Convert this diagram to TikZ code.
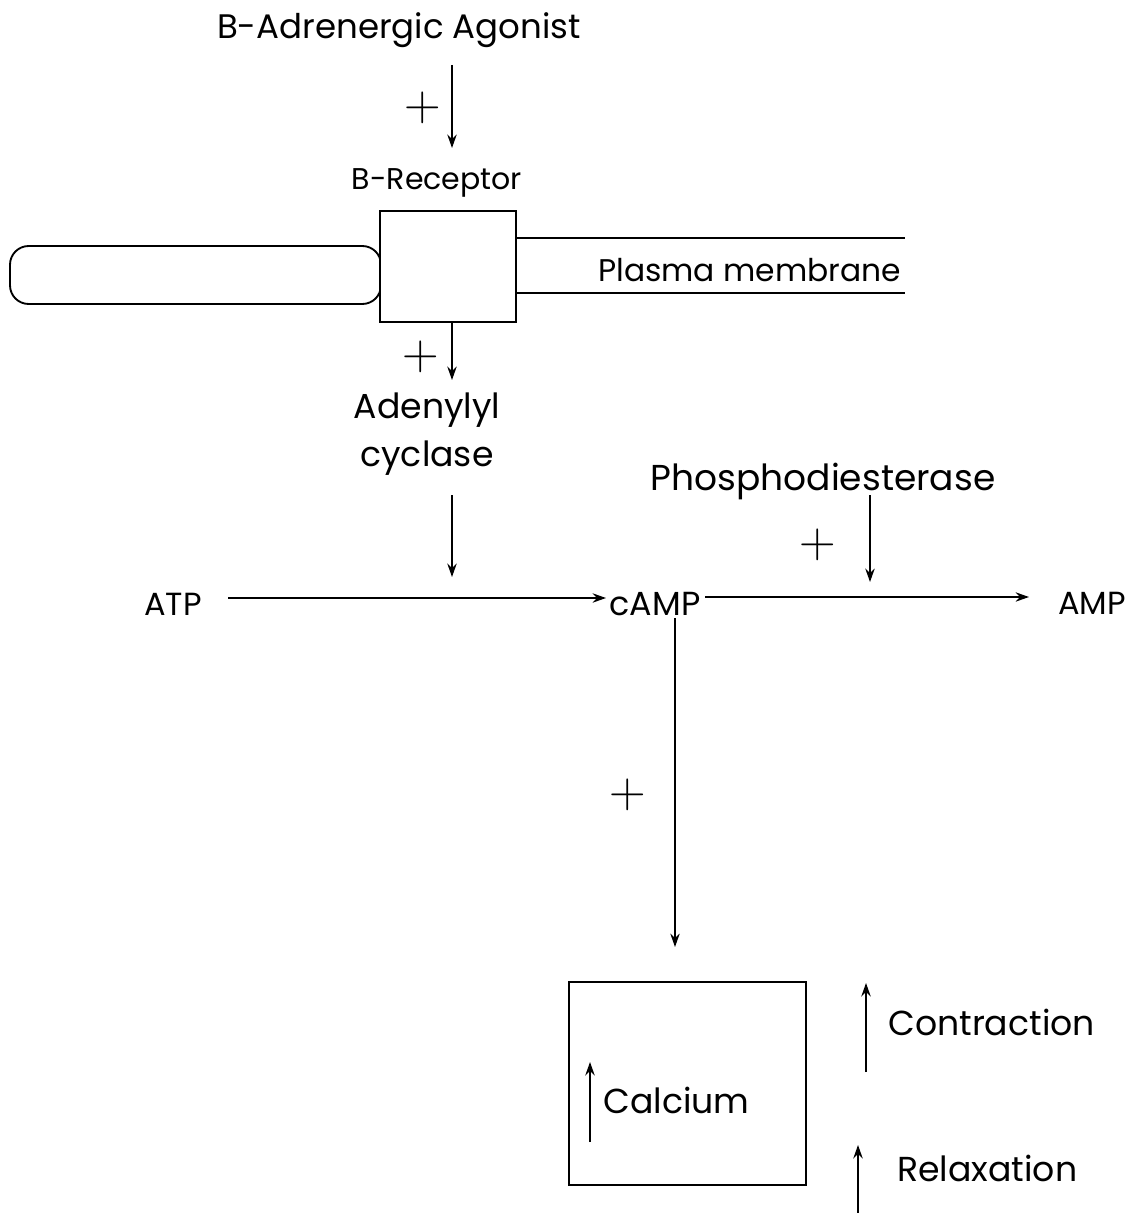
\documentclass[tikz,border=0pt]{standalone}
\usepackage{fontspec}
\setmainfont{Poppins}
\newfontfamily\lmrplus{Latin Modern Roman}
\usetikzlibrary{arrows.meta}
\begin{document}
\begin{tikzpicture}[x=0.75pt,y=-0.75pt,
  lbl/.style={inner sep=0pt,font=\fontsize{26}{30}\selectfont},
  sml/.style={inner sep=0pt,font=\fontsize{23.5}{27}\selectfont},
  plus/.style={inner sep=0pt,font=\lmrplus\fontsize{38}{40}\selectfont},
  arr/.style={line width=1.4pt,-{Stealth[length=10pt,width=7pt]}},
  ln/.style={line width=1.4pt}]
\useasboundingbox (0,0) rectangle (1146,1213);
% top
\node[lbl,font=\fontsize{25.5}{30}\selectfont] (ago) at (399,30) {B-Adrenergic Agonist};
\coordinate (a1) at (452,65);
\coordinate (a2) at (452,148);
\draw[arr] (a1) -- (a2);
\node[plus] (p1) at (423,108) {+};
\node[lbl,font=\fontsize{22.5}{26}\selectfont] (rec) at (437,183) {B-Receptor};
% receptor box and membrane
\draw[ln,rounded corners=14pt] (10,246) rectangle (381,304);
\node[draw,ln,fill=white,minimum width=136*0.75pt,minimum height=111*0.75pt,inner sep=0pt] (box) at (448,266.5) {};
\coordinate (m1) at (905,238);
\coordinate (m2) at (905,293);
\draw[ln] (box.east |- m1) -- (m1);
\draw[ln] (box.east |- m2) -- (m2);
\node[sml,anchor=west] (pm) at (598,270) {Plasma membrane};
% adenylyl cyclase
\coordinate (b2) at (452,380);
\draw[arr] (box.south -| b2) -- (b2);
\node[plus] (p2) at (421,357) {+};
\node[lbl,align=center] (ac1) at (427,410) {Adenylyl};
\node[lbl,align=center] (ac2) at (427,458) {cyclase};
\coordinate (c1) at (452,495);
\coordinate (c2) at (452,577);
\draw[arr] (c1) -- (c2);
% ATP -> cAMP -> AMP
\node[lbl,font=\fontsize{24}{28}\selectfont] (atp) at (173,604) {ATP};
\node[lbl,font=\fontsize{25}{28}\selectfont] (camp) at (655,604) {cAMP};
\node[lbl,font=\fontsize{24}{28}\selectfont] (amp) at (1092,603) {AMP};
\draw[arr] (228,598) -- (606,598);
\draw[arr] (705,597) -- (1029,597);
\node[lbl,font=\fontsize{27}{30}\selectfont] (pde) at (823,481) {Phosphodiesterase};
\draw[arr] (870,495) -- (870,582);
\node[plus] (p3) at (818,545) {+};
% down to calcium
\draw[arr] (675,618) -- (675,947);
\node[plus] (p4) at (628,795) {+};
\node[draw,ln,minimum width=237*0.75pt,minimum height=203*0.75pt,inner sep=0pt] (cal) at (687.5,1083.5) {};
\node[lbl,anchor=west] (calt) at (603,1100) {Calcium};
\draw[arr] (590,1142) -- (590,1062);
\draw[arr] (866,1072) -- (866,983);
\node[lbl,anchor=west] (con) at (888,1022) {Contraction};
\draw[arr] (858,1213) -- (858,1145);
\node[lbl,anchor=west] (rel) at (897,1168) {Relaxation};
\end{tikzpicture}
\end{document}
